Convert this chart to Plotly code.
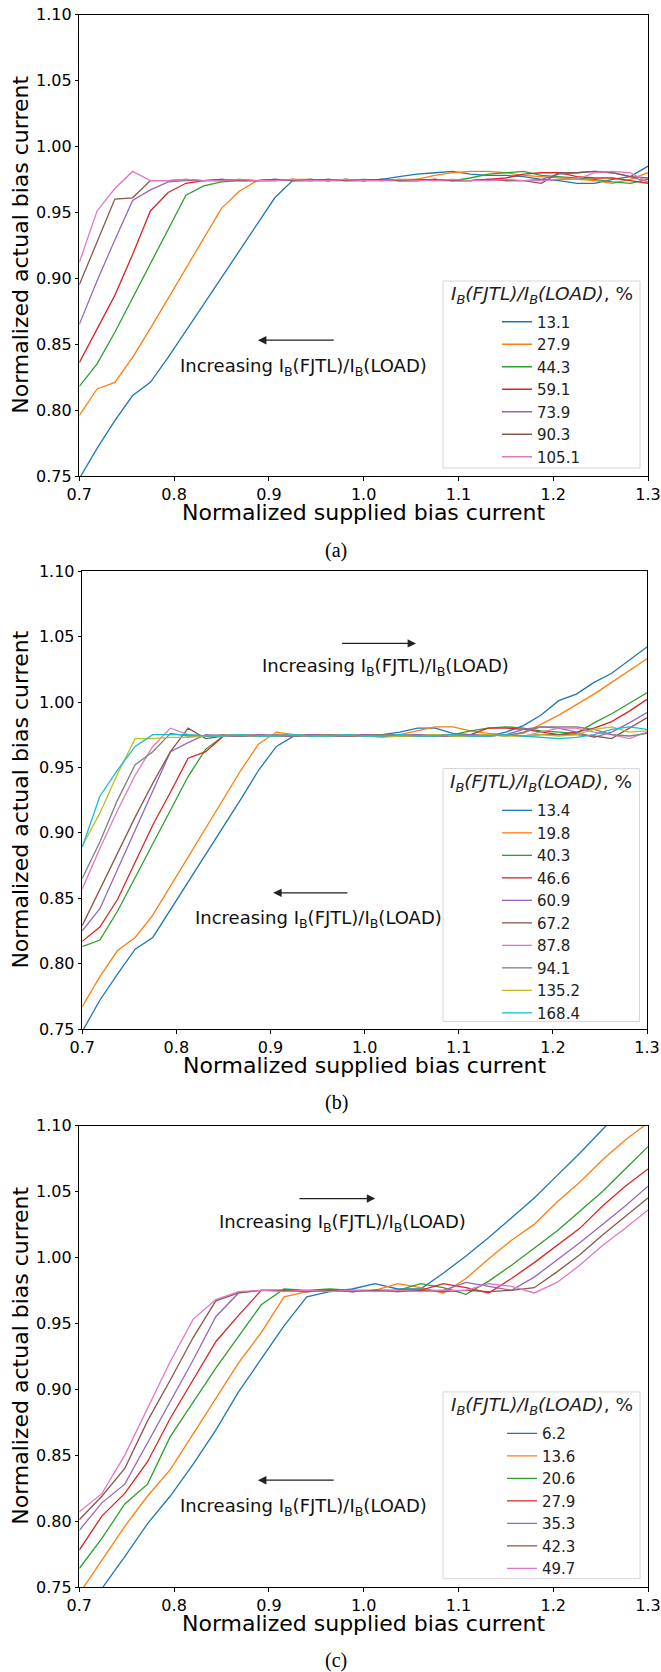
import plotly.graph_objects as go

W, H = 661, 1672

# ---------------- data ----------------
x_ab = [0.7, 0.71875, 0.7375, 0.75625, 0.775, 0.79375, 0.8125, 0.83125, 0.85, 0.86875, 0.8875,
        0.90625, 0.925, 0.94375, 0.9625, 0.98125, 1.0, 1.01875, 1.0375, 1.05625, 1.075, 1.09375,
        1.1125, 1.13125, 1.15, 1.16875, 1.1875, 1.20625, 1.225, 1.24375, 1.2625, 1.28125, 1.3]
x_c = [0.7, 0.724, 0.748, 0.772, 0.796, 0.82, 0.844, 0.868, 0.892, 0.916, 0.94, 0.964, 0.988,
       1.012, 1.036, 1.06, 1.084, 1.108, 1.132, 1.156, 1.18, 1.204, 1.228, 1.252, 1.276, 1.3]

labels_a = ["13.1", "27.9", "44.3", "59.1", "73.9", "90.3", "105.1"]
a_13_1 = [.748,.771,.792,.811,.821,.840,.860,.880,.900,.921,.941,.961,.974,.975,.974,.975,.974,.975,.977,.979,.980,.981,.979,.978,.978,.977,.975,.974,.972,.972,.975,.977,.985]
a_27_9 = [.796,.816,.821,.840,.862,.885,.908,.931,.953,.966,.974,.974,.975,.975,.974,.975,.974,.974,.975,.975,.978,.980,.981,.981,.980,.978,.977,.976,.975,.974,.972,.975,.980]
a_44_3 = [.818,.835,.859,.885,.910,.936,.963,.970,.973,.974,.974,.975,.974,.975,.974,.974,.975,.974,.974,.975,.974,.974,.976,.979,.980,.981,.978,.977,.976,.975,.973,.972,.975]
a_59_1 = [.836,.862,.887,.918,.951,.965,.972,.974,.974,.975,.974,.974,.975,.974,.974,.975,.974,.975,.974,.974,.975,.974,.974,.975,.976,.979,.980,.980,.977,.976,.976,.974,.972]
a_73_9 = [.865,.898,.929,.959,.967,.973,.974,.974,.975,.974,.974,.975,.974,.974,.975,.974,.974,.975,.974,.974,.975,.974,.974,.975,.974,.974,.975,.979,.980,.981,.980,.977,.973]
a_90_3 = [.895,.927,.960,.961,.974,.974,.975,.974,.975,.974,.974,.975,.974,.974,.975,.974,.974,.975,.974,.974,.975,.974,.974,.975,.974,.974,.972,.980,.980,.981,.980,.977,.976]
a_105_1 = [.912,.951,.968,.981,.974,.974,.975,.974,.974,.975,.974,.974,.975,.974,.974,.975,.974,.974,.975,.974,.974,.975,.974,.974,.975,.974,.974,.975,.975,.980,.981,.980,.973]

labels_b = ["13.4", "19.8", "40.3", "46.6", "60.9", "67.2", "87.8", "94.1", "135.2", "168.4"]
b_13_4 = [.748,.772,.792,.811,.820,.841,.862,.884,.905,.926,.948,.966,.974,.975,.974,.975,.974,.975,.977,.980,.980,.976,.975,.974,.977,.982,.990,1.001,1.006,1.015,1.022,1.032,1.042]
b_19_8 = [.767,.790,.810,.820,.837,.859,.881,.904,.926,.948,.968,.977,.975,.974,.975,.974,.974,.975,.975,.978,.981,.981,.978,.976,.975,.976,.983,.990,.998,1.006,1.015,1.024,1.033]
b_40_3 = [.813,.818,.840,.866,.891,.917,.943,.964,.974,.975,.974,.974,.975,.974,.974,.975,.974,.975,.974,.974,.974,.975,.978,.980,.981,.980,.978,.977,.976,.984,.991,.999,1.007]
b_46_6 = [.817,.828,.849,.877,.906,.931,.957,.962,.974,.974,.975,.974,.974,.975,.974,.974,.975,.974,.974,.975,.974,.974,.975,.980,.980,.979,.977,.975,.977,.980,.985,.993,1.002]
b_60_9 = [.825,.842,.872,.902,.932,.962,.969,.975,.974,.974,.975,.974,.974,.975,.974,.974,.975,.974,.974,.975,.974,.974,.975,.974,.975,.979,.981,.980,.977,.973,.977,.984,.992]
b_67_2 = [.829,.857,.884,.912,.938,.962,.980,.972,.974,.975,.974,.974,.975,.974,.974,.975,.974,.974,.975,.974,.974,.975,.974,.974,.975,.974,.975,.975,.975,.974,.972,.980,.988]
b_87_8 = [.857,.888,.917,.944,.966,.980,.975,.974,.974,.975,.974,.974,.975,.974,.974,.975,.974,.974,.975,.974,.974,.975,.974,.974,.975,.974,.977,.980,.980,.977,.975,.972,.977]
b_94_1 = [.865,.893,.925,.952,.962,.976,.974,.974,.975,.974,.974,.975,.974,.974,.975,.974,.974,.975,.974,.974,.975,.974,.974,.975,.974,.977,.981,.981,.981,.979,.975,.974,.976]
b_135_2 = [.890,.915,.945,.972,.972,.973,.973,.974,.974,.975,.974,.974,.975,.974,.974,.975,.974,.973,.974,.974,.975,.974,.974,.975,.974,.974,.975,.974,.975,.979,.981,.977,.978]
b_168_4 = [.889,.928,.948,.966,.975,.975,.975,.974,.974,.975,.974,.974,.975,.974,.974,.975,.974,.974,.975,.974,.974,.975,.974,.974,.975,.974,.973,.972,.973,.975,.979,.981,.979]

labels_c = ["6.2", "13.6", "20.6", "27.9", "35.3", "42.3", "49.7"]
c_6_2 = [.725,.749,.773,.798,.819,.843,.869,.898,.923,.948,.970,.974,.976,.980,.976,.976,.988,1.001,1.015,1.030,1.045,1.062,1.079,1.097,1.115,1.133]
c_13_6 = [.745,.770,.796,.819,.839,.866,.893,.920,.943,.970,.974,.975,.975,.975,.980,.977,.973,.984,.999,1.013,1.025,1.042,1.057,1.074,1.089,1.102]
c_20_6 = [.764,.787,.813,.828,.864,.890,.916,.940,.964,.976,.975,.976,.975,.975,.975,.980,.977,.972,.982,.994,1.007,1.020,1.035,1.050,1.067,1.084]
c_27_9 = [.778,.804,.821,.845,.878,.907,.936,.956,.975,.975,.974,.975,.974,.975,.975,.975,.980,.977,.973,.984,.996,1.009,1.022,1.039,1.054,1.067]
c_35_3 = [.793,.814,.828,.859,.890,.922,.955,.973,.975,.975,.974,.975,.974,.975,.974,.975,.975,.981,.978,.975,.985,.998,1.011,1.025,1.039,1.054]
c_42_3 = [.801,.819,.840,.876,.907,.939,.967,.973,.975,.975,.974,.975,.974,.975,.974,.975,.974,.975,.974,.975,.977,.989,1.002,1.017,1.031,1.045]
c_49_7 = [.807,.821,.850,.886,.921,.953,.968,.974,.975,.974,.975,.974,.975,.974,.975,.974,.975,.975,.980,.978,.973,.981,.994,1.009,1.022,1.036]

x_ticks = [0.7, 0.8, 0.9, 1.0, 1.1, 1.2, 1.3]
y_ticks = [0.75, 0.80, 0.85, 0.90, 0.95, 1.00, 1.05, 1.10]

series_a = [a_13_1, a_27_9, a_44_3, a_59_1, a_73_9, a_90_3, a_105_1]
series_b = [b_13_4, b_19_8, b_40_3, b_46_6, b_60_9, b_67_2, b_87_8, b_94_1, b_135_2, b_168_4]
series_c = [c_6_2, c_13_6, c_20_6, c_27_9, c_35_3, c_42_3, c_49_7]

# ---------------- style ----------------
colors = ["#1f77b4", "#ff7f0e", "#2ca02c", "#d62728", "#9467bd",
          "#8c564b", "#e377c2", "#7f7f7f", "#bcbd22", "#17becf"]
FONT = "DejaVu Sans"

def px(x):
    return x / W

def py(y):
    return 1 - y / H

# plot-area boxes in pixels: (left, right, top, bottom)
panels = [
    dict(box=(79.3, 648, 14.5, 476), xs=x_ab, ys=series_a, labels=labels_a, legend="legend",
         leg=(497, 318.5), title_y=294.5, lbox=(443, 640, 281, 468), cap="(a)", cap_y=550,
         arrows=[(0.8885, 0.970, 0.853, 0.937, 0.833)]),
    dict(box=(82.2, 647, 571.2, 1029), xs=x_ab, ys=series_b, labels=labels_b, legend="legend2",
         leg=(497, 807.1), title_y=783, lbox=(443, 639.5, 768.6, 1021.4), cap="(b)", cap_y=1102,
         arrows=[(1.0546, 0.9745, 1.0448, 1.0217, 1.027), (0.9029, 0.9834, 0.8541, 0.9508, 0.8339)]),
    dict(box=(79.3, 648, 1125.5, 1587), xs=x_c, ys=series_c, labels=labels_c, legend="legend3",
         leg=(502, 1430.2), title_y=1405.7, lbox=(443, 640, 1391.9, 1578.7), cap="(c)", cap_y=1660,
         arrows=[(1.0122, 0.9307, 1.0446, 0.978, 1.026), (0.8885, 0.970, 0.831, 0.937, 0.8108)]),
]

fig = go.Figure()
annotations = []
shapes = []
layout_extra = {}

legend_title = "<i>I<sub>B</sub>(FJTL)/I<sub>B</sub>(LOAD)</i>, %"
incr_text = "Increasing I<sub>B</sub>(FJTL)/I<sub>B</sub>(LOAD)"

for i, p in enumerate(panels):
    n = "" if i == 0 else str(i + 1)
    xa, ya = "x" + n, "y" + n
    left, right, top, bottom = p["box"]
    for j, (lab, ys) in enumerate(zip(p["labels"], p["ys"])):
        fig.add_trace(go.Scatter(
            x=p["xs"], y=ys, mode="lines", name=lab,
            line=dict(color=colors[j], width=1.3),
            xaxis=xa, yaxis=ya, legend=p["legend"], showlegend=True))

    axis_common = dict(showline=True, linecolor="black", linewidth=1, mirror=True,
                       ticks="outside", ticklen=3.5, tickwidth=1, tickcolor="black",
                       showgrid=False, zeroline=False, automargin=False,
                       tickfont=dict(family=FONT, size=16, color="black"))
    layout_extra["xaxis" + n] = dict(axis_common, domain=[px(left), px(right)], range=[0.7, 1.3],
                                     tickvals=x_ticks, ticktext=[f"{v:.1f}" for v in x_ticks],
                                     anchor=ya)
    layout_extra["yaxis" + n] = dict(axis_common, domain=[py(bottom), py(top)], range=[0.75, 1.10],
                                     tickvals=y_ticks, ticktext=[f"{v:.2f}" for v in y_ticks],
                                     anchor=xa)

    # legend: first entry centre at leg[1]
    lx, ly = p["leg"]
    layout_extra[p["legend"]] = dict(
        x=px(lx), y=py(ly - 13), xanchor="left", yanchor="top",
        bgcolor="rgba(0,0,0,0)", borderwidth=0,
        font=dict(family=FONT, size=15, color="#222"))

    # legend frame and title
    x0, x1, y0, y1 = p["lbox"]
    shapes.append(dict(type="rect", xref="paper", yref="paper",
                       x0=px(x0), x1=px(x1), y0=py(y1), y1=py(y0),
                       line=dict(color="#d6d6d6", width=1), fillcolor="rgba(255,255,255,0.8)",
                       layer="above"))
    annotations.append(dict(text=legend_title, xref="paper", yref="paper",
                            x=px((x0 + x1) / 2), y=py(p["title_y"]), xanchor="center",
                            yanchor="middle", showarrow=False,
                            font=dict(family=FONT, size=18.5, color="#222")))

    # axis titles
    annotations.append(dict(text="Normalized supplied bias current", xref="paper", yref="paper",
                            x=px((left + right) / 2), y=py(bottom + 36), xanchor="center",
                            yanchor="middle", showarrow=False,
                            font=dict(family=FONT, size=22, color="black")))
    annotations.append(dict(text="Normalized actual bias current", xref="paper", yref="paper",
                            x=px(20.5), y=py((top + bottom) / 2), xanchor="center",
                            yanchor="middle", textangle=-90, showarrow=False,
                            font=dict(family=FONT, size=22, color="black")))
    # caption
    annotations.append(dict(text=p["cap"], xref="paper", yref="paper",
                            x=px(336), y=py(p["cap_y"]), xanchor="center", yanchor="middle",
                            showarrow=False,
                            font=dict(family="Liberation Serif", size=20, color="black")))
    # arrows and labels
    for (hx, tx, ay_, cx, cy) in p["arrows"]:
        annotations.append(dict(x=hx, y=ay_, ax=tx, ay=ay_, xref=xa, yref=ya,
                                axref=xa, ayref=ya, text="", showarrow=True,
                                arrowhead=2, arrowsize=1.4, arrowwidth=1.2,
                                arrowcolor="#222", standoff=0, startstandoff=0))
        annotations.append(dict(x=cx, y=cy, xref=xa, yref=ya, text=incr_text,
                                showarrow=False, xanchor="center", yanchor="middle",
                                font=dict(family=FONT, size=18, color="#111")))

fig.update_layout(
    width=W, height=H,
    margin=dict(l=0, r=0, t=0, b=0, autoexpand=False),
    paper_bgcolor="white", plot_bgcolor="white",
    showlegend=True,
    annotations=annotations, shapes=shapes,
    **layout_extra)

fig.write_html("out.html", config={"displayModeBar": False},
               post_script="document.body.style.margin='0px';")
